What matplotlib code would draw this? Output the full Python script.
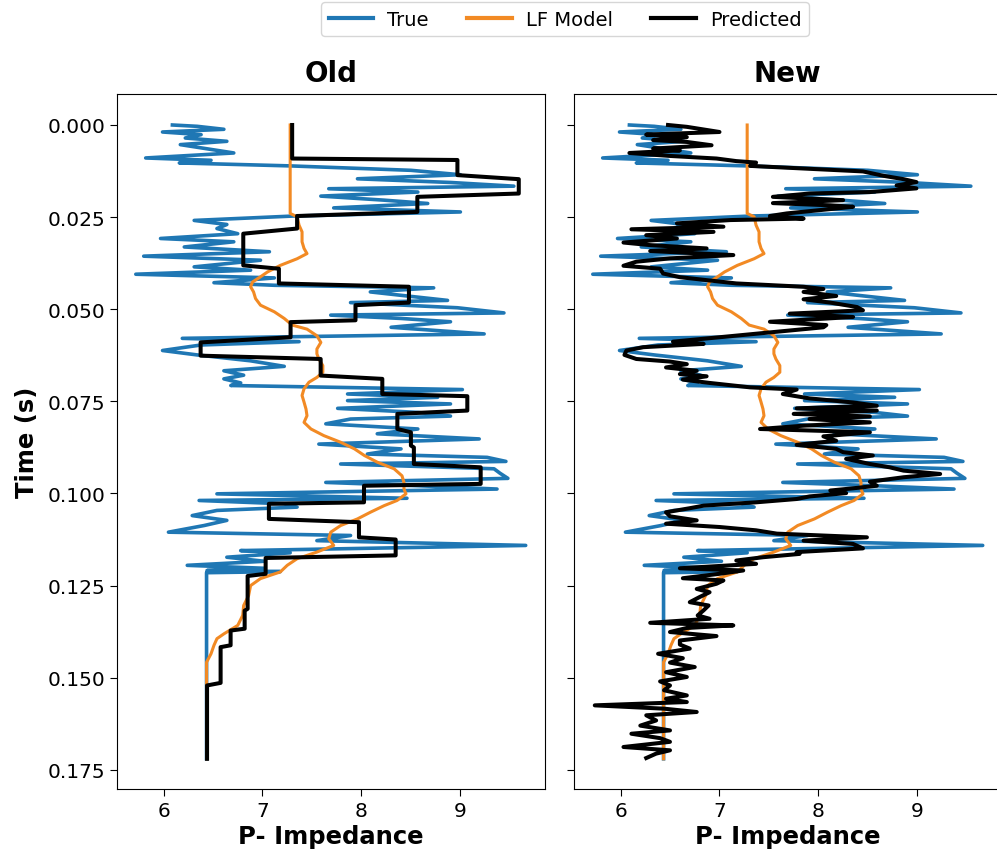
import matplotlib
matplotlib.use("Agg")
import matplotlib.pyplot as plt
from matplotlib.lines import Line2D

# ---- data: (time [s], P-impedance) ----
true_log = [
    (0.0, 6.09), (0.00036, 6.34), (0.00117, 6.61), (0.0019, 5.99), (0.00262, 6.38),
    (0.00353, 6.22), (0.00443, 6.64), (0.00533, 6.17), (0.00642, 6.43), (0.00759, 6.71),
    (0.00895, 5.82), (0.00958, 6.48), (0.0103, 6.16), (0.0111, 7.28), (0.0123, 8.50),
    (0.0135, 9.00), (0.0146, 7.96), (0.0156, 8.90), (0.0166, 9.54), (0.0173, 7.67),
    (0.0182, 8.57), (0.0193, 7.59), (0.0204, 8.23), (0.0213, 8.67), (0.0225, 7.72),
    (0.0236, 9.00), (0.0247, 7.32), (0.0259, 6.31), (0.0270, 6.64), (0.0281, 6.54),
    (0.0295, 6.75), (0.0308, 5.97), (0.0317, 6.71), (0.0331, 6.21), (0.0344, 7.07),
    (0.0356, 5.80), (0.0367, 6.98), (0.0385, 6.31), (0.0394, 6.88), (0.0405, 5.72),
    (0.0415, 7.12), (0.0428, 6.51), (0.0435, 7.12), (0.0442, 8.73), (0.0453, 8.09),
    (0.0464, 8.46), (0.0476, 8.87), (0.0482, 7.89), (0.0496, 8.97), (0.0510, 9.44),
    (0.0516, 7.69), (0.0525, 8.40), (0.0534, 8.90), (0.0549, 8.30), (0.0567, 9.24),
    (0.0579, 6.19), (0.0588, 7.37), (0.0597, 6.38), (0.0612, 5.99), (0.0624, 6.34),
    (0.0640, 6.88), (0.0655, 7.22), (0.0667, 6.61), (0.0679, 6.81), (0.0689, 6.61),
    (0.0700, 6.78), (0.0707, 6.68), (0.0718, 9.02), (0.0730, 7.86), (0.0739, 8.77),
    (0.0748, 7.86), (0.0757, 8.90), (0.0769, 7.76), (0.0780, 8.57), (0.0790, 8.90),
    (0.0798, 7.89), (0.0811, 7.64), (0.0825, 8.57), (0.0838, 8.16), (0.0852, 9.19),
    (0.0866, 7.57), (0.0879, 8.40), (0.0893, 8.06), (0.0902, 9.27), (0.0913, 9.46),
    (0.0920, 7.79), (0.0933, 9.34), (0.0945, 9.40), (0.0959, 9.48), (0.0970, 7.64),
    (0.0979, 8.57), (0.0988, 9.37), (0.1001, 6.54), (0.1013, 8.46), (0.1019, 6.36),
    (0.1028, 7.22), (0.1037, 7.35), (0.1046, 6.54), (0.1060, 6.29), (0.1073, 6.64),
    (0.1087, 6.41), (0.1105, 6.05), (0.1114, 7.89), (0.1128, 7.55), (0.1141, 9.66),
    (0.1155, 6.78), (0.1161, 7.28), (0.1173, 6.64), (0.1184, 7.02), (0.1195, 6.24),
    (0.1203, 7.02), (0.1209, 6.44), (0.1212, 7.18), (0.1215, 6.435), (0.1720, 6.435),
]

lf_model = [
    (0.0, 7.28), (0.0240, 7.28), (0.0249, 7.35), (0.0272, 7.37), (0.0290, 7.40),
    (0.0317, 7.40), (0.0335, 7.42), (0.0349, 7.45), (0.0363, 7.35), (0.0381, 7.18),
    (0.0399, 7.05), (0.0412, 6.98), (0.0426, 6.90), (0.0439, 6.88), (0.0453, 6.91),
    (0.0471, 6.93), (0.0489, 6.98), (0.0507, 7.12), (0.0525, 7.22), (0.0543, 7.30),
    (0.0554, 7.45), (0.0572, 7.55), (0.0590, 7.59), (0.0608, 7.55), (0.0621, 7.55),
    (0.0635, 7.57), (0.0653, 7.61), (0.0671, 7.61), (0.0685, 7.55), (0.0698, 7.47),
    (0.0716, 7.42), (0.0734, 7.40), (0.0752, 7.42), (0.0771, 7.44), (0.0789, 7.45),
    (0.0807, 7.42), (0.0825, 7.49), (0.0843, 7.62), (0.0861, 7.79), (0.0879, 7.93),
    (0.0897, 8.03), (0.0915, 8.16), (0.0933, 8.33), (0.0952, 8.41), (0.0970, 8.43),
    (0.0988, 8.43), (0.1001, 8.45), (0.1019, 8.36), (0.1033, 8.23), (0.1051, 8.09),
    (0.1069, 7.96), (0.1087, 7.79), (0.1105, 7.69), (0.1123, 7.67), (0.1141, 7.72),
    (0.1159, 7.55), (0.1177, 7.35), (0.1195, 7.25), (0.1213, 7.18), (0.1231, 6.98),
    (0.1250, 6.88), (0.1277, 6.86), (0.1304, 6.81), (0.1331, 6.80), (0.1358, 6.75),
    (0.1381, 6.61), (0.1394, 6.54), (0.1412, 6.51), (0.1435, 6.48), (0.1458, 6.435),
    (0.1720, 6.435),
]

pred_old = [
    (0.0, 7.30), (0.0091, 7.30), (0.0095, 8.97), (0.0136, 8.97), (0.0147, 9.59),
    (0.0186, 9.59), (0.0195, 8.565), (0.0236, 8.565), (0.0247, 7.35), (0.0281, 7.35),
    (0.0295, 6.806), (0.0381, 6.806), (0.0390, 7.166), (0.0430, 7.166), (0.0439, 8.48),
    (0.0482, 8.48), (0.0489, 7.94), (0.0530, 7.94), (0.0535, 7.284), (0.0576, 7.284),
    (0.0590, 6.375), (0.0626, 6.375), (0.0635, 7.588), (0.0680, 7.588), (0.0689, 8.211),
    (0.0730, 8.211), (0.0736, 9.07), (0.0775, 9.07), (0.0784, 8.363), (0.0825, 8.363),
    (0.0834, 8.50), (0.0870, 8.50), (0.0875, 8.53), (0.0920, 8.53), (0.0929, 9.205),
    (0.0974, 9.205), (0.0979, 8.026), (0.1024, 8.026), (0.1028, 7.065), (0.1069, 7.065),
    (0.1078, 7.975), (0.1119, 7.975), (0.1125, 8.346), (0.1168, 8.346), (0.1175, 7.032),
    (0.1218, 7.032), (0.1224, 6.85), (0.1313, 6.85), (0.1318, 6.82), (0.1367, 6.82),
    (0.1372, 6.678), (0.1412, 6.678), (0.1417, 6.577), (0.1514, 6.577), (0.1521, 6.44),
    (0.1720, 6.44),
]

pred_new = [
    (0.0, 6.48), (0.0005, 6.67), (0.0019, 7.00), (0.0026, 6.26), (0.0033, 6.67),
    (0.0041, 6.33), (0.0046, 6.67), (0.0055, 6.92), (0.0064, 6.33), (0.0069, 6.60),
    (0.0076, 6.09), (0.0084, 6.50), (0.0091, 6.97), (0.0098, 7.17), (0.0102, 7.37),
    (0.0111, 7.31), (0.0118, 7.85), (0.0126, 8.45), (0.0138, 8.66), (0.0147, 8.86),
    (0.0155, 8.99), (0.0164, 8.79), (0.0172, 8.99), (0.0182, 8.52), (0.0186, 7.91),
    (0.0195, 7.54), (0.0204, 8.25), (0.0212, 7.54), (0.0218, 8.12), (0.0222, 8.35),
    (0.0231, 8.02), (0.0240, 7.68), (0.0247, 7.51), (0.0254, 7.85), (0.0258, 7.11),
    (0.0267, 6.57), (0.0276, 7.04), (0.0283, 6.11), (0.0290, 6.94), (0.0299, 6.26),
    (0.0308, 6.57), (0.0319, 6.03), (0.0326, 6.30), (0.0335, 6.87), (0.0342, 6.30),
    (0.0353, 7.14), (0.0362, 6.50), (0.0371, 6.16), (0.0382, 6.03), (0.0390, 6.40),
    (0.0403, 6.43), (0.0413, 6.60), (0.0422, 6.90), (0.0430, 7.17), (0.0439, 7.85),
    (0.0445, 8.05), (0.0453, 7.85), (0.0464, 8.18), (0.0473, 7.85), (0.0482, 8.12),
    (0.0494, 8.39), (0.0503, 8.45), (0.0512, 7.71), (0.0521, 8.35), (0.0534, 7.51),
    (0.0543, 8.08), (0.0549, 8.05), (0.0563, 7.51), (0.0576, 7.00), (0.0588, 6.53),
    (0.0594, 6.84), (0.0603, 6.23), (0.0612, 6.06), (0.0624, 6.04), (0.0635, 6.16),
    (0.0642, 6.50), (0.0649, 6.67), (0.0658, 6.46), (0.0667, 6.77), (0.0676, 6.60),
    (0.0682, 6.87), (0.0691, 6.63), (0.0700, 6.90), (0.0712, 7.31), (0.0718, 7.78),
    (0.0730, 7.64), (0.0742, 7.91), (0.0753, 8.35), (0.0762, 8.59), (0.0769, 7.78),
    (0.0775, 8.59), (0.0784, 7.75), (0.0791, 8.52), (0.0798, 7.91), (0.0807, 8.52),
    (0.0816, 7.85), (0.0825, 7.41), (0.0834, 8.52), (0.0845, 8.05), (0.0857, 8.18),
    (0.0868, 7.78), (0.0879, 8.18), (0.0888, 8.25), (0.0897, 8.55), (0.0906, 8.28),
    (0.0920, 8.52), (0.0929, 8.72), (0.0938, 8.86), (0.0947, 9.23), (0.0956, 8.86),
    (0.0968, 8.52), (0.0979, 8.59), (0.0986, 8.35), (0.0992, 8.12), (0.0999, 8.28),
    (0.1008, 7.91), (0.1015, 7.78), (0.1024, 7.37), (0.1033, 6.84), (0.1040, 6.70),
    (0.1051, 6.46), (0.1062, 6.50), (0.1073, 6.77), (0.1082, 6.46), (0.1091, 7.00),
    (0.1100, 7.37), (0.1109, 7.58), (0.1119, 8.49), (0.1128, 7.85), (0.1137, 8.35),
    (0.1149, 8.45), (0.1159, 7.78), (0.1164, 7.81), (0.1173, 7.44), (0.1182, 7.17),
    (0.1191, 7.37), (0.1203, 6.60), (0.1209, 7.24), (0.1218, 7.00), (0.1230, 6.63),
    (0.1236, 7.04), (0.1245, 6.97), (0.1259, 6.77), (0.1268, 6.90), (0.1281, 6.80),
    (0.1295, 6.70), (0.1304, 6.89), (0.1317, 6.84), (0.1331, 6.78), (0.1340, 6.90),
    (0.1351, 6.30), (0.1358, 7.14), (0.1365, 6.67), (0.1376, 6.50), (0.1387, 6.97),
    (0.1399, 6.60), (0.1410, 6.60), (0.1421, 6.70), (0.1435, 6.38), (0.1447, 6.63),
    (0.1459, 6.50), (0.1471, 6.75), (0.1485, 6.46), (0.1498, 6.67), (0.1510, 6.40),
    (0.1521, 6.50), (0.1534, 6.44), (0.1548, 6.67), (0.1557, 6.46), (0.1566, 6.67),
    (0.1575, 5.74), (0.1584, 6.44), (0.1593, 6.77), (0.1602, 6.26), (0.1616, 6.36),
    (0.1630, 6.20), (0.1643, 6.50), (0.1652, 6.11), (0.1664, 6.40), (0.1674, 6.50),
    (0.1688, 6.03), (0.1697, 6.50), (0.1706, 6.36), (0.1718, 6.26),
]

titles = ["Old", "New"]
legend_labels = ["True", "LF Model", "Predicted"]
yticks = [0.000, 0.025, 0.050, 0.075, 0.100, 0.125, 0.150, 0.175]
xticks = [6, 7, 8, 9]

C_TRUE = "#1f77b4"
C_LF = "#f28a24"
C_PRED = "black"


def split(pairs):
    return [p[0] for p in pairs], [p[1] for p in pairs]


W, H = 997, 862
fig = plt.figure(figsize=(W / 100, H / 100), dpi=100)

ax_l = fig.add_axes([117 / W, 1 - 790 / H, 427.5 / W, 695 / H])
ax_r = fig.add_axes([574 / W, 1 - 790 / H, 427.5 / W, 695 / H], sharey=ax_l)

for ax, title, pred in [(ax_l, titles[0], pred_old), (ax_r, titles[1], pred_new)]:
    t, v = split(true_log)
    ax.plot(v, t, color=C_TRUE, lw=2.6, solid_joinstyle="round")
    t, v = split(lf_model)
    ax.plot(v, t, color=C_LF, lw=2.2)
    t, v = split(pred)
    ax.plot(v, t, color=C_PRED, lw=2.9)
    ax.set_title(title, fontsize=20, fontweight="bold", pad=9)
    ax.set_xlabel("P- Impedance", fontsize=17.5, fontweight="bold", labelpad=3)
    ax.set_xticks(xticks)
    ax.set_xlim(5.53, 9.85)
    ax.tick_params(labelsize=14.5, length=5)

ax_l.set_ylim(0.1802, -0.00841)
ax_l.set_yticks(yticks)
ax_l.set_ylabel("Time (s)", fontsize=17.5, fontweight="bold", labelpad=6)
plt.setp(ax_r.get_yticklabels(), visible=False)

handles = [Line2D([], [], color=c, lw=3) for c in (C_TRUE, C_LF, C_PRED)]
fig.legend(handles, legend_labels, loc="center", ncol=3, fontsize=14,
           bbox_to_anchor=(565 / W, 1 - 20 / H), handlelength=2.3,
           handletextpad=0.7, columnspacing=2.0, borderpad=0.4)

fig.savefig("out.png", dpi=100)
